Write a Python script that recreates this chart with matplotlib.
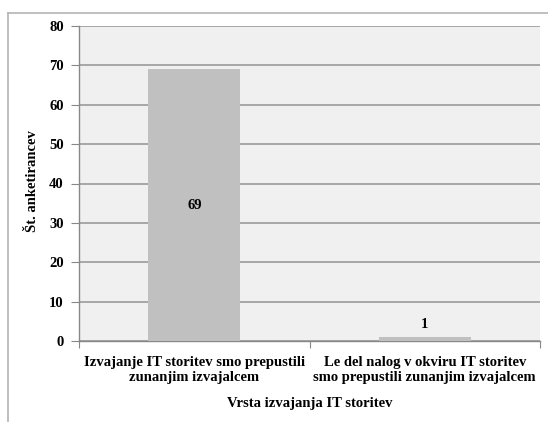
import matplotlib
matplotlib.use("Agg")
import matplotlib.pyplot as plt
from matplotlib.lines import Line2D

categories = ["Izvajanje IT storitev smo prepustili\nzunanjim izvajalcem",
              "Le del nalog v okviru IT storitev\nsmo prepustili zunanjim izvajalcem"]
values = [69, 1]
y_ticks = [0, 10, 20, 30, 40, 50, 60, 70, 80]
x_title = "Vrsta izvajanja IT storitev"
y_title = "Št. anketirancev"

plt.rcParams["font.family"] = ["Liberation Serif", "DejaVu Serif"]
plt.rcParams["font.weight"] = "bold"
FS = 10.5

fig = plt.figure(figsize=(5.48, 4.22), dpi=100)
fig.patch.set_facecolor("white")

# outer chart frame (left and top edges)
fig.add_artist(Line2D([8 / 548, 8 / 548], [0, 1 - 12.5 / 422], transform=fig.transFigure,
                      color="#b4b4b4", lw=1.2))
fig.add_artist(Line2D([8 / 548, 1], [1 - 12.5 / 422, 1 - 12.5 / 422], transform=fig.transFigure,
                      color="#b4b4b4", lw=1.2))

ax = fig.add_axes([79 / 548, 81 / 422, 461 / 548, 315 / 422])
ax.set_facecolor("#f0f0f0")

x = range(len(categories))
bars = ax.bar(x, values, width=0.4, color="#c0c0c0", zorder=3)

ax.set_xlim(-0.5, len(categories) - 0.5)
ax.set_ylim(0, 80)
ax.set_yticks(y_ticks)
ax.set_yticklabels([str(t) for t in y_ticks], fontsize=FS, fontweight="bold")
ax.yaxis.grid(True, color="#9a9a9a", lw=1.2, zorder=1)

ax.set_xticks([-0.5, 0.5, 1.5])
ax.set_xticklabels([])
ax.set_xticks(list(x), minor=True)
ax.set_xticklabels(categories, minor=True, fontsize=FS, fontweight="bold", linespacing=1.2)
ax.tick_params(axis="x", which="minor", length=0, pad=11)
ax.tick_params(axis="x", which="major", length=5, color="#888888", direction="out")
ax.tick_params(axis="y", length=6, color="#888888", pad=5)

for side in ["top", "right"]:
    ax.spines[side].set_visible(False)
for side in ["left", "bottom"]:
    ax.spines[side].set_color("#888888")
    ax.spines[side].set_linewidth(1.0)

# value labels
for i, v in enumerate(values):
    if v > 10:
        ax.text(i, v / 2, str(v), ha="center", va="center", fontsize=FS, fontweight="bold", zorder=4)
    else:
        ax.text(i, v + 1.5, str(v), ha="center", va="bottom", fontsize=FS, fontweight="bold", zorder=4)

fig.text(310 / 548, 1 - 403 / 422, x_title, ha="center", va="center", fontsize=FS, fontweight="bold")
fig.text(33 / 548, 1 - 181 / 422, y_title, ha="center", va="center", rotation=90, fontsize=FS,
         fontweight="bold")

fig.savefig("out.png", dpi=100)
